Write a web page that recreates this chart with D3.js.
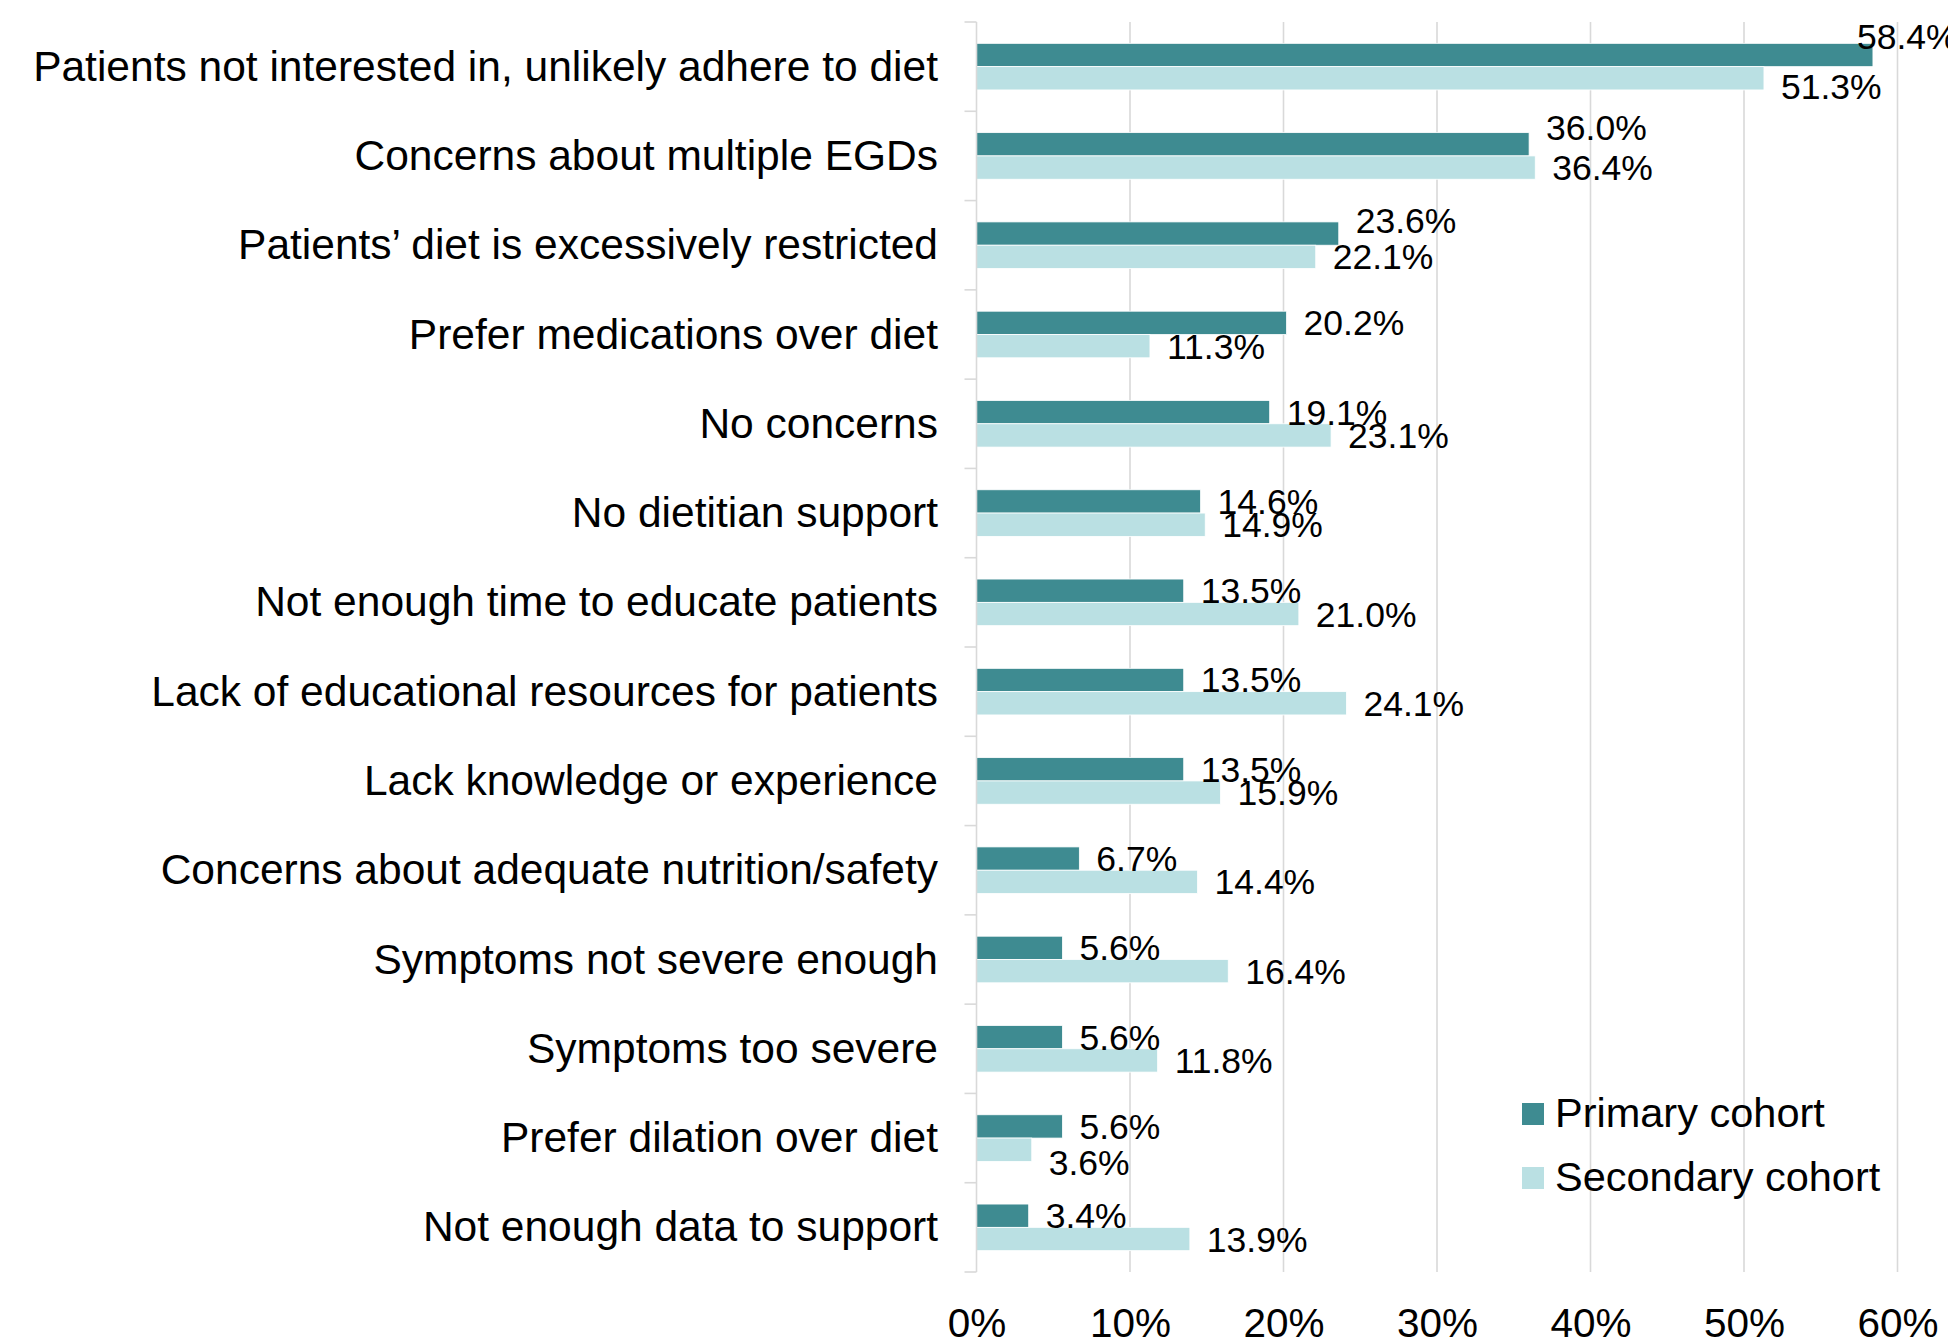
<!DOCTYPE html>
<html>
<head>
<meta charset="utf-8">
<script src="https://cdn.jsdelivr.net/npm/d3@7"></script>
<style>
  html, body { margin: 0; padding: 0; background: #ffffff; }
  svg { display: block; font-family: "Liberation Sans", Arial, Helvetica, sans-serif; }
</style>
</head>
<body>
<svg id="chart" width="1948" height="1342"></svg>
<script>
// ---- data ----
const categories = [
  "Patients not interested in, unlikely adhere to diet",
  "Concerns about multiple EGDs",
  "Patients\u2019 diet is excessively restricted",
  "Prefer medications over diet",
  "No concerns",
  "No dietitian support",
  "Not enough time to educate patients",
  "Lack of educational resources for patients",
  "Lack knowledge or experience",
  "Concerns about adequate nutrition/safety",
  "Symptoms not severe enough",
  "Symptoms too severe",
  "Prefer dilation over diet",
  "Not enough data to support"
];
const primaryValues   = [58.4, 36.0, 23.6, 20.2, 19.1, 14.6, 13.5, 13.5, 13.5, 6.7, 5.6, 5.6, 5.6, 3.4];
const secondaryValues = [51.3, 36.4, 22.1, 11.3, 23.1, 14.9, 21.0, 24.1, 15.9, 14.4, 16.4, 11.8, 3.6, 13.9];
const seriesNames = ["Primary cohort", "Secondary cohort"];
const xTickValues = [0, 10, 20, 30, 40, 50, 60];

// ---- layout / style ----
const W = 1948, H = 1342;
const colors = { "Primary cohort": "#3e8b91", "Secondary cohort": "#bae0e3" };
const plot = { left: 976.5, right: 1897.5, top: 22, bottom: 1272 };
// manual label nudges as in the original figure (layout only)
const labelNudge = {
  "0|Primary cohort": [-33, -18],
  "0|Secondary cohort": [0, 8],
  "1|Primary cohort": [0, -17],
  "2|Primary cohort": [0, -13],
  "12|Secondary cohort": [0, 13]
};

const svg = d3.select("#chart");

const x = d3.scaleLinear().domain([0, 60]).range([plot.left, plot.right]);
const y = d3.scaleBand().domain(categories).range([plot.top, plot.bottom])
  .paddingInner(0.478).paddingOuter(0.239);
const ySub = d3.scaleBand().domain(seriesNames).range([0, y.bandwidth()]);

const rows = categories.map((c, i) => ({
  cat: c, idx: i,
  vals: [
    { series: seriesNames[0], v: primaryValues[i] },
    { series: seriesNames[1], v: secondaryValues[i] }
  ]
}));

// gridlines
svg.append("g").selectAll("line").data(xTickValues.filter(d => d > 0)).join("line")
  .attr("x1", d => x(d)).attr("x2", d => x(d))
  .attr("y1", plot.top).attr("y2", plot.bottom)
  .attr("stroke", "#d9d9d9").attr("stroke-width", 1.6);

// bars
const gRows = svg.append("g").selectAll("g").data(rows).join("g")
  .attr("transform", d => `translate(0,${y(d.cat)})`);
gRows.selectAll("rect").data(d => d.vals).join("rect")
  .attr("x", x(0))
  .attr("y", d => ySub(d.series))
  .attr("width", d => x(d.v) - x(0))
  .attr("height", ySub.bandwidth())
  .attr("fill", d => colors[d.series])
  .attr("stroke", "#ffffff").attr("stroke-width", 0.8);

// y axis line + ticks at category boundaries
svg.append("line").attr("x1", plot.left).attr("x2", plot.left)
  .attr("y1", plot.top).attr("y2", plot.bottom)
  .attr("stroke", "#d9d9d9").attr("stroke-width", 1.6);
const boundaries = d3.range(categories.length + 1).map(i => plot.top + i * y.step());
svg.append("g").selectAll("line").data(boundaries).join("line")
  .attr("x1", plot.left - 12).attr("x2", plot.left)
  .attr("y1", d => d).attr("y2", d => d)
  .attr("stroke", "#d9d9d9").attr("stroke-width", 1.6);

// category labels
svg.append("g").selectAll("text").data(categories).join("text")
  .attr("x", 938)
  .attr("y", d => y(d) + y.bandwidth() / 2 + 14)
  .attr("text-anchor", "end")
  .attr("font-size", 42.5)
  .attr("fill", "#000")
  .text(d => d);

// value labels
gRows.selectAll("text").data(d => d.vals.map(v => ({ ...v, idx: d.idx }))).join("text")
  .attr("x", d => {
    const n = labelNudge[d.idx + "|" + d.series] || [0, 0];
    return x(d.v) + 17 + n[0];
  })
  .attr("y", d => {
    const n = labelNudge[d.idx + "|" + d.series] || [0, 0];
    return ySub(d.series) + ySub.bandwidth() / 2 + 12.5 + n[1];
  })
  .attr("font-size", 35.5)
  .attr("fill", "#000")
  .text(d => d.v.toFixed(1) + "%");

// x axis tick labels
const xAxis = d3.axisBottom(x).tickValues(xTickValues).tickSize(0).tickFormat(d => d + "%");
const gx = svg.append("g").attr("transform", `translate(0,${plot.bottom})`).call(xAxis);
gx.select(".domain").remove();
gx.selectAll(".tick text")
  .attr("y", 64.7).attr("dy", null)
  .attr("font-size", 40.5)
  .attr("font-family", "\"Liberation Sans\", Arial, sans-serif")
  .attr("fill", "#000");

// legend
const legend = svg.append("g").selectAll("g").data(seriesNames).join("g")
  .attr("transform", (d, i) => `translate(1522,${1103 + i * 64})`);
legend.append("rect").attr("width", 22).attr("height", 22)
  .attr("fill", d => colors[d]);
legend.append("text")
  .attr("x", 33).attr("y", 24)
  .attr("font-size", 41.5)
  .attr("fill", "#000")
  .text(d => d);
</script>
</body>
</html>
